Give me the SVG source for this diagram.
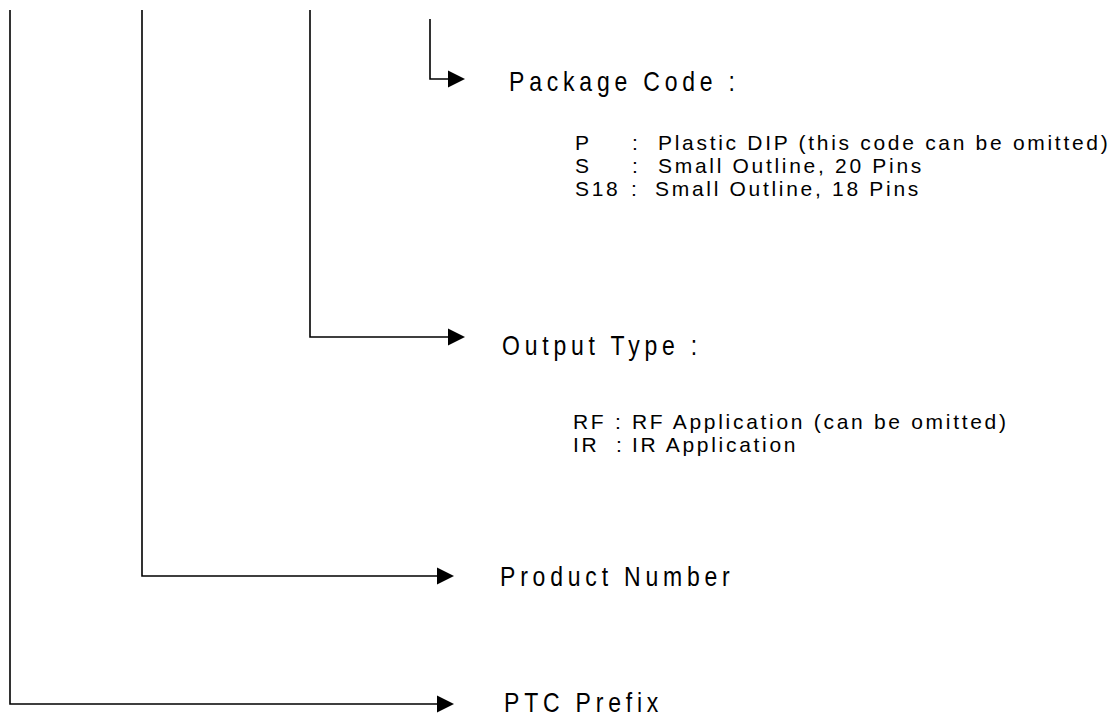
<svg xmlns="http://www.w3.org/2000/svg" width="1117" height="717" viewBox="0 0 1117 717">
<style>
.big{font-family:"Liberation Sans",Arial,sans-serif;font-size:23px;letter-spacing:4.8px;fill:#000}
.sub{font-family:"Liberation Sans",Arial,sans-serif;font-size:21px;letter-spacing:2.7px;fill:#000}
.ln{fill:none;stroke:#000;stroke-width:1.6}
</style>
<defs>
<marker id="ah" viewBox="0 0 17 17" refX="0" refY="8.5" markerWidth="17" markerHeight="17" markerUnits="userSpaceOnUse" orient="auto" overflow="visible">
<path d="M0,0 L17,8.5 L0,17 z" fill="#000"/>
</marker>
</defs>
<g id="connectors">
<path class="ln" d="M10,10 V704 H437" marker-end="url(#ah)"/>
<path class="ln" d="M142,10 V576 H437" marker-end="url(#ah)"/>
<path class="ln" d="M310,10 V337 H448" marker-end="url(#ah)"/>
<path class="ln" d="M430,19 V79 H448" marker-end="url(#ah)"/>
</g>
<g id="package-code">
<text class="big" transform="translate(509,91) scale(1,1.22)">Package Code :</text>
<text class="sub" x="575" y="150">P</text><text class="sub" x="632" y="150">:</text><text class="sub" x="658" y="150">Plastic DIP (this code can be omitted)</text>
<text class="sub" x="575" y="173">S</text><text class="sub" x="632" y="173">:</text><text class="sub" x="658" y="173">Small Outline, 20 Pins</text>
<text class="sub" x="575" y="196">S18</text><text class="sub" x="631" y="196">:</text><text class="sub" x="655" y="196">Small Outline, 18 Pins</text>
</g>
<g id="output-type">
<text class="big" transform="translate(502,355) scale(1,1.22)">Output Type :</text>
<text class="sub" x="573" y="429">RF</text><text class="sub" x="615" y="429">:</text><text class="sub" x="632" y="429">RF Application (can be omitted)</text>
<text class="sub" x="573" y="452">IR</text><text class="sub" x="616" y="452">:</text><text class="sub" x="632" y="452">IR Application</text>
</g>
<g id="product-number">
<text class="big" transform="translate(500,586) scale(1,1.22)">Product Number</text>
</g>
<g id="ptc-prefix">
<text class="big" transform="translate(504,712) scale(1,1.22)">PTC Prefix</text>
</g>
</svg>
